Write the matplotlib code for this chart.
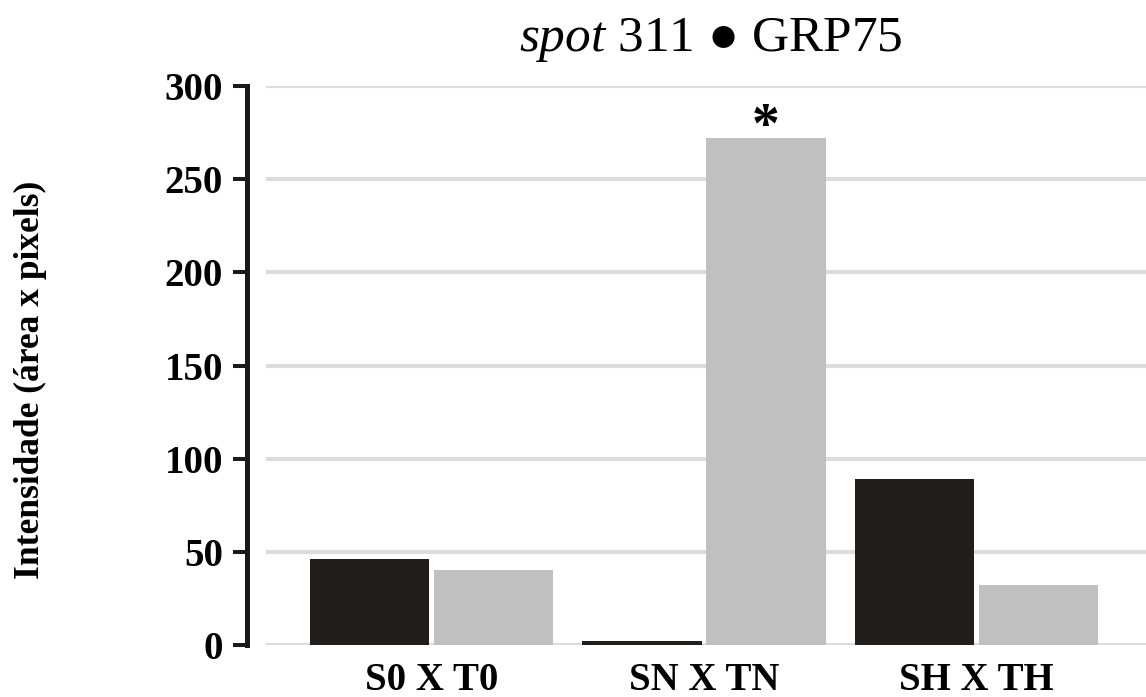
import matplotlib.pyplot as plt
import numpy as np

plt.rcParams['font.family'] = ['Liberation Serif', 'DejaVu Serif']
plt.rcParams['mathtext.fontset'] = 'custom'
plt.rcParams['mathtext.it'] = 'Liberation Serif:italic'
plt.rcParams['mathtext.rm'] = 'Liberation Serif'

# Data
grupos = ['S0 X T0', 'SN X TN', 'SH X TH']
serie_s = [46, 2, 89]     # dark bars
serie_t = [40, 272, 32]   # gray bars
significativo = [False, True, False]  # asterisk over the gray bar
y_ticks = [0, 50, 100, 150, 200, 250, 300]

cor_s = '#221e1b'
cor_t = '#c0c0c0'

fig = plt.figure(figsize=(11.46, 6.97), dpi=100)
ax = fig.add_axes([266/1146, 52/697, 880/1146, 559/697])

# spines first: set_position resets the tick objects
for s in ['top', 'right', 'bottom']:
    ax.spines[s].set_visible(False)
ax.spines['left'].set_position(('outward', 14))
ax.spines['left'].set_bounds(0, 300)
ax.spines['left'].set_linewidth(3.6)
ax.spines['left'].set_color('#1a1a1a')

x = np.arange(len(grupos))
w = 0.437
gap = 0.018
ax.bar(x - (w + gap)/2, serie_s, width=w, color=cor_s, zorder=3)
ax.bar(x + (w + gap)/2, serie_t, width=w, color=cor_t, zorder=3)

for xi, v, sig in zip(x, serie_t, significativo):
    if sig:
        ax.text(xi + (w + gap)/2, v - 2, '*', ha='center', va='baseline',
                fontsize=40, fontweight='bold', color='black')

ax.set_xlim(-0.607, 2.622)
ax.set_ylim(0, 300)
ax.yaxis.grid(True, color='#dcdcdc', linewidth=3)
ax.set_axisbelow(True)
ax.tick_params(axis='x', length=0, pad=12)
ax.tick_params(axis='y', length=10, width=2.9, direction='out', pad=7,
               color='#1a1a1a', labelsize=28)
ax.set_yticks(y_ticks)
ax.set_yticklabels([str(t) for t in y_ticks], fontsize=28, fontweight='bold')
ax.set_xticks(x)
ax.set_xticklabels(grupos, fontsize=28, fontweight='bold')

fig.text(30/1146, 1 - 380/697, 'Intensidade (área x pixels)', rotation=90,
         ha='center', va='center', fontsize=25.5, fontweight='bold')
fig.text(711/1146, 1 - 40/697, r'$\it{spot}$ 311 ● GRP75', ha='center',
         va='center', fontsize=37)

fig.savefig('out.png', dpi=100)
